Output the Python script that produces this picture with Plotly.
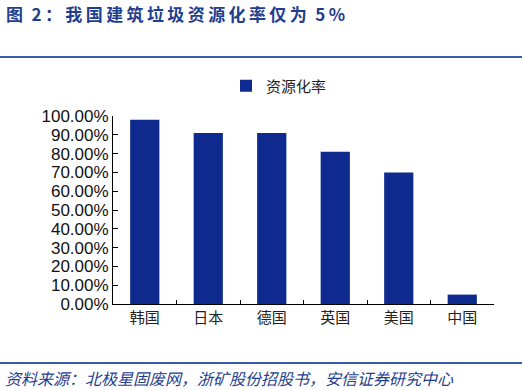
import plotly.graph_objects as go

categories = ["韩国", "日本", "德国", "英国", "美国", "中国"]
values = [0.98, 0.91, 0.91, 0.81, 0.70, 0.05]
series_name = "资源化率"
title_text = "图 2：我国建筑垃圾资源化率仅为 5%"
source_text = "资料来源：北极星固废网，浙矿股份招股书，安信证券研究中心"

W, H = 522, 390
L, R, T, B = 113, 28, 116, 86
PW = W - L - R
PH = H - T - B

def px(x):
    return (x - L) / PW

def py(y):
    return (H - B - y) / PH

def spaced(s, sep="\u2009"):
    out = ""
    for i, ch in enumerate(s):
        if ch == " ":
            out += "\u2002"
            continue
        out += ch
        if i < len(s) - 1 and s[i + 1] != " ":
            out += sep
    return out

bar_color = "#0F2A8E"
blue = "#1F3E8F"
line_blue = "#3B5CA8"

fig = go.Figure()
fig.add_trace(go.Bar(
    x=categories, y=values, name=series_name,
    marker=dict(color=bar_color, line=dict(width=0)),
    showlegend=True,
))

fig.update_layout(
    width=W, height=H,
    margin=dict(l=L, r=R, t=T, b=B, pad=0),
    paper_bgcolor="white", plot_bgcolor="white",
    bargap=0.54,
    showlegend=True,
    legend=dict(
        orientation="h", x=px(226), y=py(86), xanchor="left", yanchor="middle",
        font=dict(family="Noto Sans CJK SC", size=15, color="#222"),
        itemwidth=30, itemsizing="constant", bgcolor="rgba(0,0,0,0)",
    ),
    xaxis=dict(
        showline=True, linecolor="#000", linewidth=1,
        ticks="inside", ticklen=4, tickcolor="#000", tickson="boundaries",
        tickfont=dict(family="Noto Sans CJK SC", size=15, color="#222"),
        showgrid=False,
    ),
    yaxis=dict(
        range=[0, 1], dtick=0.1, tickformat=".2%",
        showline=True, linecolor="#000", linewidth=1,
        ticks="inside", ticklen=5, tickcolor="#000",
        tickfont=dict(family="Arial", size=17, color="#111"),
        showgrid=False, zeroline=False,
    ),
    annotations=[
        dict(text="<b>" + spaced(title_text) + "</b>", xref="paper", yref="paper",
             x=px(4), y=py(13), xanchor="left", yanchor="middle", showarrow=False,
             font=dict(family="Noto Sans CJK SC", size=17, color=blue)),
        dict(text="<i>" + source_text + "</i>", xref="paper", yref="paper",
             x=px(3), y=py(378), xanchor="left", yanchor="middle", showarrow=False,
             font=dict(family="Noto Sans CJK SC", size=16, color=blue)),
    ],
    shapes=[
        dict(type="line", xref="paper", yref="paper", x0=px(0), x1=px(W),
             y0=py(57), y1=py(57), line=dict(color=line_blue, width=2)),
        dict(type="line", xref="paper", yref="paper", x0=px(0), x1=px(W),
             y0=py(363), y1=py(363), line=dict(color=line_blue, width=2)),
    ],
)

fig.write_html("out.html", config={"displayModeBar": False},
               post_script="document.body.style.margin='0';")
